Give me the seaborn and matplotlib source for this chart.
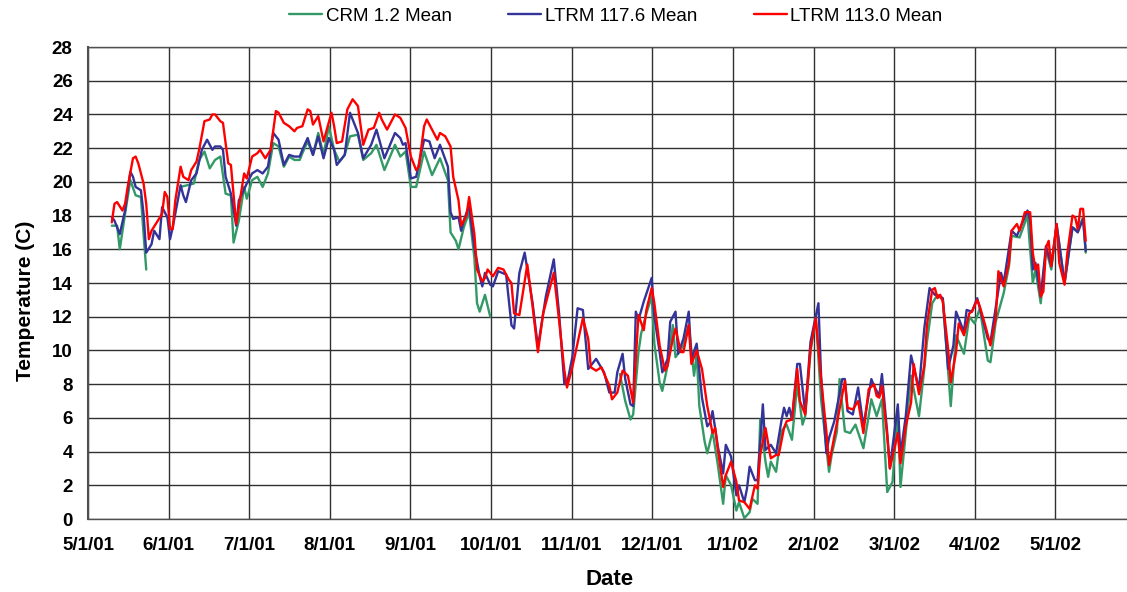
import numpy as np
import pandas as pd
import seaborn as sns
import matplotlib.pyplot as plt
import matplotlib.dates as mdates

# days counted from 5/1/01, values in deg C (nan = gap in record)
start = pd.Timestamp('2001-05-01')
axis_days = 396
series_names = ['CRM 1.2 Mean', 'LTRM 117.6 Mean', 'LTRM 113.0 Mean']
series_colors = ['#339966', '#333399', '#FF0000']
tick_labels = ['5/1/01', '6/1/01', '7/1/01', '8/1/01', '9/1/01', '10/1/01', '11/1/01',
               '12/1/01', '1/1/02', '2/1/02', '3/1/02', '4/1/02', '5/1/02', '']

crm_days = [9, 11, 12, 14, 16, 18, 20, 21, 22, 28,
            35, 40, 42, 44, 46, 48, 50, 52, 54, 55, 57, 59, 60, 62, 64, 66, 68, 70, 72, 74,
            76, 78, 80, 81, 83, 85, 87, 89, 91, 93, 95, 97, 99, 102, 104, 107, 109, 112, 116, 118,
            120, 122, 124, 127, 130, 133, 136, 137, 139, 140, 142, 144, 146, 147, 148, 150, 152, 175,
            201, 203, 205, 206, 208, 209, 211, 213, 214, 216, 217, 219, 221, 222, 225, 227, 229, 230,
            231, 233, 234, 236, 238, 240, 241, 243, 245, 246, 248, 250, 251, 253, 254, 256, 257, 258,
            260, 262, 264, 266, 268, 270, 271, 273, 275, 277, 280, 281, 283, 284, 286, 288, 290, 293,
            296, 298, 300, 302, 304, 306, 307, 309, 311, 314, 316, 317, 319, 321, 323, 326, 328, 331,
            333, 335, 337, 340, 341, 343, 346, 348, 349, 352, 355, 357, 358, 360, 362, 364, 366, 369,
            372, 374, 376, 377]
crm_temp = [17.4, 17.4, 16.0, 18.1, 20.1, 19.2, 19.1, 16.9, 14.8, np.nan,
            19.7, 19.9, 21.3, 21.8, 20.8, 21.3, 21.5, 19.3, 19.2, 16.4, 17.7, 19.7, 19.0, 20.1, 20.3, 19.7, 20.5, 22.3, 22.1, 20.9,
            21.5, 21.3, 21.3, 21.7, 22.4, 21.6, 22.9, 21.6, 23.3, 21.9, 21.2, 21.6, 22.7, 22.8, 21.3, 21.7, 22.2, 20.7, 22.2, 21.5,
            21.8, 19.7, 19.7, 21.8, 20.4, 21.4, 20.1, 17.0, 16.5, 16.0, 17.3, 18.2, 15.5, 12.8, 12.3, 13.3, 12.0, np.nan,
            8.6, 7.0, 5.9, 6.2, 9.9, 11.0, 12.2, 13.2, 10.4, 8.1, 7.6, 9.1, 11.5, 9.6, 10.3, 11.5, 8.5, 9.8,
            6.7, 4.6, 3.9, 5.2, 3.2, 0.9, 2.6, 2.0, 0.5, 1.0, 0.05, 0.4, 1.2, 0.9, 5.9, 3.4, 2.5, 3.4,
            2.8, 5.2, 5.6, 4.7, 8.0, 5.6, 6.1, 9.9, 12.0, 7.1, 2.8, 3.8, 5.2, 8.3, 5.2, 5.1, 5.6, 4.2,
            7.1, 6.1, 7.1, 1.6, 2.2, 6.5, 1.9, 5.1, 8.5, 6.1, 8.9, 10.5, 12.8, 13.3, 13.0, 6.7, 10.9, 9.8,
            12.0, 11.6, 12.5, 9.4, 9.3, 11.7, 13.4, 15.0, 16.8, 16.7, 18.0, 14.0, 14.8, 12.8, 16.0, 14.8, 17.4, 14.0,
            17.3, 17.1, 17.9, 15.8]

ltrm176_days = [9, 10, 12, 14, 16, 17, 18, 20, 21, 22, 24, 25, 27, 28, 30, 31, 32, 35, 36, 37,
                39, 41, 43, 45, 47, 48, 50, 51, 52, 54, 56, 57, 60, 62, 64, 66, 68, 70, 72, 74,
                76, 78, 80, 81, 83, 85, 87, 89, 91, 93, 94, 97, 99, 102, 104, 107, 109, 112, 116, 118,
                119, 120, 122, 124, 127, 129, 131, 133, 136, 137, 138, 140, 141, 142, 144, 146, 148, 149, 150, 152,
                153, 155, 158, 160, 161, 163, 165, 168, 170, 173, 176, 178, 180, 181, 183, 185, 187, 189, 192, 195,
                197, 199, 200, 202, 203, 205, 206, 207, 208, 210, 213, 214, 216, 217, 219, 220, 222, 223, 225, 227,
                228, 230, 232, 234, 235, 236, 238, 240, 241, 243, 245, 246, 248, 249, 250, 252, 253, 255, 256, 258,
                260, 262, 263, 264, 265, 266, 268, 269, 271, 273, 276, 277, 279, 280, 282, 285, 286, 287, 289, 291,
                293, 296, 297, 299, 300, 302, 303, 306, 307, 309, 311, 314, 316, 318, 320, 322, 323, 325, 327, 328,
                331, 332, 334, 336, 340, 341, 345, 346, 349, 351, 355, 356, 357, 358, 360, 362, 364, 366, 369, 372,
                374, 376, 377]
ltrm176_temp = [17.9, 17.7, 16.9, 18.3, 20.6, 20.3, 19.7, 19.5, 18.1, 15.8, 16.3, 17.1, 16.6, 18.5, 17.9, 16.6, 17.3, 19.8, 19.2, 18.8,
                20.1, 20.5, 21.9, 22.5, 21.9, 22.1, 22.1, 21.9, 20.3, 19.3, 17.4, 18.9, 19.9, 20.5, 20.7, 20.5, 20.9, 22.9, 22.5, 21.0,
                21.6, 21.5, 21.5, 21.9, 22.6, 21.6, 22.7, 21.4, 22.6, 21.9, 21.0, 21.6, 24.1, 22.9, 21.4, 22.2, 23.1, 21.4, 22.9, 22.6,
                22.2, 22.3, 20.2, 20.3, 22.5, 22.4, 21.4, 22.2, 20.9, 18.2, 17.8, 17.9, 17.1, 17.7, 18.6, 16.1, 14.4, 13.8, 14.6, 13.9,
                13.8, 14.7, 14.5, 11.5, 11.3, 14.6, 15.8, 12.8, 10.2, 13.2, 15.4, 12.2, 8.0, 8.0, 9.6, 12.5, 12.4, 8.9, 9.5, 8.7,
                7.5, 7.5, 8.7, 9.8, 8.3, 6.8, 6.7, 12.3, 11.8, 12.9, 14.3, 12.0, 9.9, 8.7, 9.5, 11.7, 12.3, 9.8, 10.7, 12.3,
                9.5, 10.4, 7.2, 5.5, 5.7, 6.4, 4.3, 2.7, 4.4, 3.7, 1.4, 2.0, 1.0, 1.8, 3.1, 2.3, 2.3, 6.8, 4.1, 4.4,
                3.9, 5.8, 6.6, 6.1, 6.6, 5.9, 9.2, 9.2, 6.3, 10.5, 12.8, 8.5, 3.9, 4.8, 5.8, 8.3, 8.3, 6.4, 6.2, 7.8,
                5.5, 8.3, 7.9, 7.3, 8.6, 5.1, 3.0, 6.8, 3.8, 6.1, 9.7, 7.7, 11.3, 13.7, 13.3, 13.2, 13.1, 8.9, 10.3, 12.3,
                11.1, 12.4, 12.3, 13.1, 10.7, 10.5, 14.6, 14.0, 17.1, 16.8, 18.3, 17.7, 14.8, 15.2, 13.2, 16.2, 15.0, 17.5, 14.0, 17.3,
                17.0, 17.8, 15.9]

ltrm113_days = [9, 10, 11, 13, 14, 15, 17, 18, 19, 21, 22, 23, 24, 26, 28, 29, 30, 31, 32, 33,
                35, 36, 38, 39, 41, 42, 44, 46, 47, 48, 50, 51, 53, 54, 56, 59, 60, 62, 64, 65,
                67, 69, 71, 72, 74, 76, 78, 79, 81, 83, 84, 85, 87, 89, 92, 93, 94, 96, 98, 100,
                102, 104, 106, 108, 110, 111, 113, 116, 118, 120, 122, 124, 125, 127, 128, 130, 132, 133, 135, 137,
                138, 140, 141, 143, 144, 146, 147, 149, 150, 151, 153, 155, 157, 159, 160, 161, 163, 166, 168, 170,
                172, 174, 176, 178, 180, 181, 183, 187, 189, 190, 192, 194, 197, 198, 200, 202, 204, 206, 208, 210,
                211, 213, 214, 216, 218, 219, 221, 222, 224, 225, 227, 228, 230, 232, 234, 236, 237, 238, 240, 241,
                243, 245, 246, 248, 250, 252, 253, 254, 256, 258, 260, 261, 263, 264, 266, 268, 269, 271, 273, 275,
                277, 279, 280, 282, 283, 286, 287, 289, 291, 293, 295, 297, 298, 299, 300, 302, 303, 306, 307, 309,
                311, 312, 314, 316, 317, 319, 320, 321, 322, 323, 325, 326, 328, 329, 331, 333, 334, 336, 337, 339,
                341, 343, 344, 346, 348, 349, 351, 352, 353, 354, 356, 357, 358, 359, 360, 361, 362, 363, 364, 366,
                367, 369, 370, 372, 373, 374, 375, 376, 377]
ltrm113_temp = [17.6, 18.7, 18.8, 18.3, 18.7, 19.7, 21.4, 21.5, 21.1, 19.9, 18.7, 16.6, 17.1, 17.6, 18.1, 19.4, 19.1, 17.2, 17.2, 18.9,
                20.9, 20.3, 20.1, 20.7, 21.2, 21.9, 23.6, 23.7, 24.0, 24.0, 23.6, 23.5, 21.1, 21.0, 17.5, 20.5, 20.2, 21.5, 21.7, 21.9,
                21.4, 21.9, 24.2, 24.1, 23.5, 23.3, 23.0, 23.2, 23.3, 24.3, 24.2, 23.4, 23.9, 22.4, 24.1, 23.3, 22.3, 22.4, 24.3, 24.9,
                24.5, 22.2, 23.1, 23.2, 24.1, 23.7, 23.1, 24.0, 23.8, 23.2, 21.5, 20.7, 20.9, 23.3, 23.7, 23.1, 22.5, 22.9, 22.7, 22.1,
                20.3, 18.9, 17.4, 18.0, 19.1, 16.9, 14.8, 14.1, 14.3, 14.8, 14.4, 14.9, 14.8, 14.2, 14.0, 12.2, 12.1, 15.1, 12.6, 9.9,
                12.2, 13.4, 14.6, 11.8, 8.8, 7.8, 9.0, 11.9, 10.7, 9.0, 8.8, 9.0, 7.9, 7.1, 7.5, 8.8, 8.5, 6.9, 12.1, 11.2,
                12.4, 13.7, 12.8, 10.3, 8.8, 9.1, 10.7, 11.3, 9.9, 9.9, 11.5, 9.2, 10.0, 8.9, 6.7, 5.1, 5.4, 4.1, 1.9, 2.6,
                3.4, 2.2, 1.1, 1.0, 0.6, 2.0, 1.8, 3.8, 5.4, 3.6, 3.8, 3.8, 5.4, 5.8, 5.9, 8.9, 7.0, 6.2, 10.1, 11.9,
                8.3, 5.2, 3.2, 4.9, 5.7, 8.2, 6.6, 6.5, 7.0, 5.1, 7.7, 8.0, 7.3, 7.2, 7.9, 4.9, 3.0, 5.1, 3.3, 5.5,
                6.9, 9.2, 7.4, 9.1, 11.5, 13.6, 13.7, 13.1, 13.3, 12.9, 10.1, 8.1, 9.9, 11.6, 10.9, 12.2, 12.3, 13.0, 12.6, 11.5,
                10.3, 11.9, 14.7, 13.8, 15.2, 17.1, 17.5, 17.1, 17.6, 18.2, 18.2, 15.8, 14.8, 15.1, 13.2, 13.5, 16.1, 16.5, 15.0, 17.5,
                15.2, 13.9, 15.7, 18.0, 17.9, 17.2, 18.4, 18.4, 16.5]

frames = []
for name, days, temps in zip(series_names,
                             [crm_days, ltrm176_days, ltrm113_days],
                             [crm_temp, ltrm176_temp, ltrm113_temp]):
    df = pd.DataFrame({'day': days, 'temp': temps})
    df['segment'] = name + '_' + df['temp'].isna().cumsum().astype(str)
    df = df.dropna()
    df['series'] = name
    frames.append(df)
data = pd.concat(frames, ignore_index=True)
data['date'] = start + pd.to_timedelta(data['day'], unit='D')

sns.set_style('whitegrid')
plt.rcParams['font.family'] = ['Liberation Sans', 'DejaVu Sans']
plt.rcParams['text.color'] = 'black'
plt.rcParams['axes.labelcolor'] = 'black'

W, H = 1127, 592
fig = plt.figure(figsize=(W / 100, H / 100), dpi=100)
ax = fig.add_axes([88 / W, 1 - 519 / H, 1048 / W, 472 / H])

sns.lineplot(data=data, x='date', y='temp', hue='series', hue_order=series_names,
             palette=dict(zip(series_names, series_colors)),
             units='segment', estimator=None, linewidth=1.7, ax=ax)

# evenly spaced monthly gridlines, like the original
ticks = [mdates.date2num((start + pd.Timedelta(days=axis_days * k / 13)).to_pydatetime())
         for k in range(14)]
ax.set_xlim(ticks[0], ticks[-1])
ax.set_xticks(ticks)
ax.set_xticklabels(tick_labels)
ax.set_ylim(0, 28)
ax.set_yticks(range(0, 29, 2))

ax.grid(True, color='#303030', linewidth=1)
for s in ax.spines.values():
    s.set_color('#505050')
    s.set_linewidth(1)
ax.spines['left'].set_linewidth(1.5)
ax.tick_params(axis='both', direction='out', length=5, width=1, color='#505050',
               labelsize=13.5, labelcolor='black')
ax.tick_params(axis='x', pad=8)
ax.tick_params(axis='y', pad=6)
for lab in ax.get_xticklabels() + ax.get_yticklabels():
    lab.set_fontweight('bold')

ax.set_xlabel('Date', fontsize=16, fontweight='bold', color='black')
ax.set_ylabel('Temperature (C)', fontsize=15, fontweight='bold', color='black')
ax.xaxis.set_label_coords(0.498, -0.106)
ax.yaxis.set_label_coords(-0.051, 0.462)

handles, labels = ax.get_legend_handles_labels()
ax.legend_.remove()
fig.legend(handles, labels, loc='center', bbox_to_anchor=(616 / W, 1 - 16 / H), ncol=3,
           frameon=False, fontsize=13.5, handlelength=1.76, handletextpad=0.2, columnspacing=3.0)

fig.savefig('out.png', dpi=100)
